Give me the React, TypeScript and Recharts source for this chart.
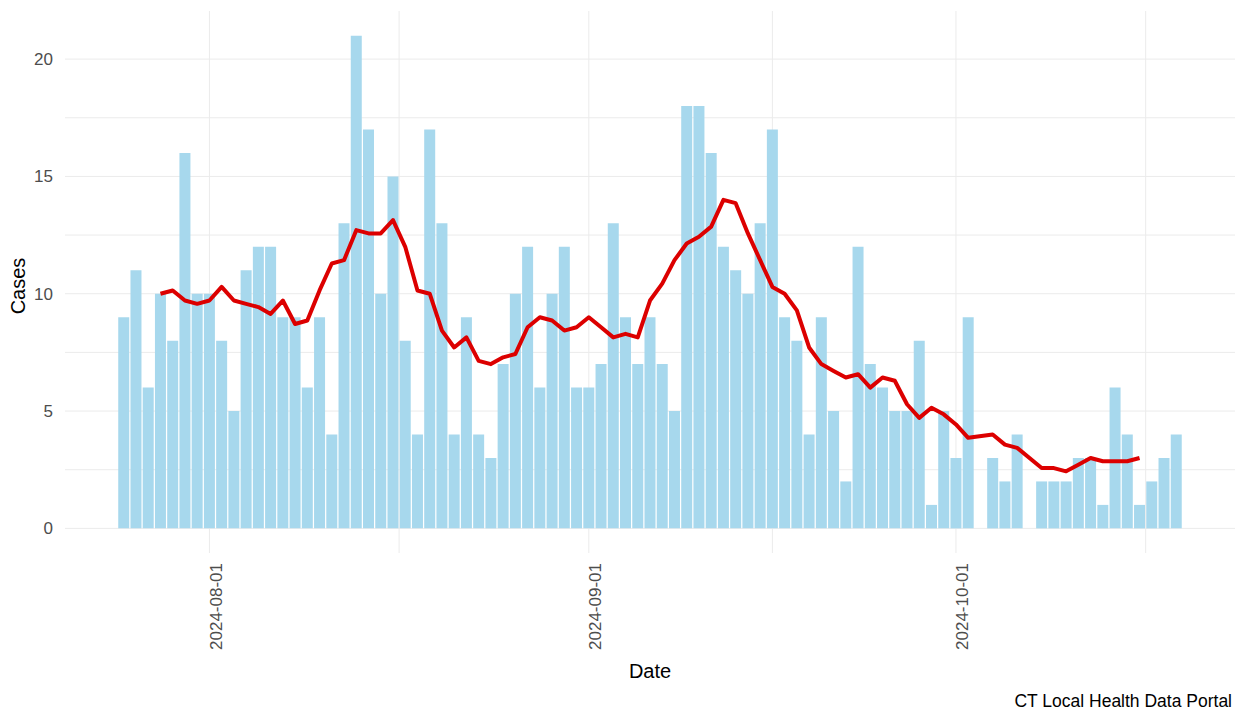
import { ComposedChart, Bar, Line, XAxis, YAxis, CartesianGrid, Label } from 'recharts';

// daily rows as reported; Oct 3 and Oct 7 have no row
const dates = [
  '2024-07-25', '2024-07-26', '2024-07-27', '2024-07-28', '2024-07-29', '2024-07-30', '2024-07-31',
  '2024-08-01', '2024-08-02', '2024-08-03', '2024-08-04', '2024-08-05', '2024-08-06', '2024-08-07',
  '2024-08-08', '2024-08-09', '2024-08-10', '2024-08-11', '2024-08-12', '2024-08-13', '2024-08-14',
  '2024-08-15', '2024-08-16', '2024-08-17', '2024-08-18', '2024-08-19', '2024-08-20', '2024-08-21',
  '2024-08-22', '2024-08-23', '2024-08-24', '2024-08-25', '2024-08-26', '2024-08-27', '2024-08-28',
  '2024-08-29', '2024-08-30', '2024-08-31',
  '2024-09-01', '2024-09-02', '2024-09-03', '2024-09-04', '2024-09-05', '2024-09-06', '2024-09-07',
  '2024-09-08', '2024-09-09', '2024-09-10', '2024-09-11', '2024-09-12', '2024-09-13', '2024-09-14',
  '2024-09-15', '2024-09-16', '2024-09-17', '2024-09-18', '2024-09-19', '2024-09-20', '2024-09-21',
  '2024-09-22', '2024-09-23', '2024-09-24', '2024-09-25', '2024-09-26', '2024-09-27', '2024-09-28',
  '2024-09-29', '2024-09-30',
  '2024-10-01', '2024-10-02', '2024-10-04', '2024-10-05', '2024-10-06', '2024-10-08', '2024-10-09',
  '2024-10-10', '2024-10-11', '2024-10-12', '2024-10-13', '2024-10-14', '2024-10-15', '2024-10-16',
  '2024-10-17', '2024-10-18', '2024-10-19',
];

const cases = [
  9, 11, 6, 10, 8, 16, 10,
  10, 8, 5, 11, 12, 12, 9, 9, 6, 9, 4, 13, 21, 17, 10, 15, 8, 4, 17, 13, 4, 9, 4, 3, 7, 10, 12, 6, 10, 12, 6,
  6, 7, 13, 9, 7, 9, 7, 5, 18, 18, 16, 12, 11, 10, 13, 17, 9, 8, 4, 9, 5, 2, 12, 7, 6, 5, 5, 8, 1, 5,
  3, 9, 3, 2, 4, 2, 2, 2, 3, 3, 1, 6, 4, 1, 2, 3, 4,
];

// red 7-day average line
const rollingAvg = [
  null, null, null, 10.0, 10.14, 9.71, 9.57,
  9.71, 10.29, 9.71, 9.57, 9.43, 9.14, 9.71, 8.71, 8.86, 10.14, 11.29, 11.43, 12.71, 12.57, 12.57, 13.14,
  12.0, 10.14, 10.0, 8.43, 7.71, 8.14, 7.14, 7.0, 7.29, 7.43, 8.57, 9.0, 8.86, 8.43, 8.57,
  9.0, 8.57, 8.14, 8.29, 8.14, 9.71, 10.43, 11.43, 12.14, 12.43, 12.86, 14.0, 13.86, 12.57, 11.43, 10.29,
  10.0, 9.29, 7.71, 7.0, 6.71, 6.43, 6.57, 6.0, 6.43, 6.29, 5.29, 4.71, 5.14, 4.86,
  4.43, 3.86, 4.0, 3.57, 3.43, 2.57, 2.57, 2.43, 2.71, 3.0, 2.86, 2.86, 2.86, 3.0, null, null, null,
];

const majorDates = ['2024-08-01', '2024-09-01', '2024-10-01'];
const minorDates = ['2024-08-16T12:00:00Z', '2024-09-16T00:00:00Z', '2024-10-16T12:00:00Z'];
const yTicks = [0, 2.5, 5, 7.5, 10, 12.5, 15, 17.5, 20];

const DAY = 86400000;
const FONT = '"Liberation Sans", Arial, sans-serif';

const data = dates.map((d, i) => ({ t: Date.parse(d), cases: cases[i], avg: rollingAvg[i] }));
const majorTimes = majorDates.map((d) => Date.parse(d));
const xTicks = [...majorTimes, ...minorDates.map((d) => Date.parse(d))].sort((a, b) => a - b);
const xDomain = [data[0].t - 4.8 * DAY, data[data.length - 1].t + 4.8 * DAY];

const DateTick = (props: any) => {
  const { x, y, payload } = props;
  const i = majorTimes.indexOf(payload.value);
  if (i < 0) return null;
  const cx = x + 7;
  return (
    <text x={cx} y={y} transform={`rotate(-90 ${cx} ${y})`} textAnchor="end" dominantBaseline="central"
      fill="#4d4d4d" fontSize={17} fontFamily={FONT}>
      {majorDates[i]}
    </text>
  );
};

export default function App() {
  return (
    <div style={{ position: 'absolute', left: 0, top: 0, width: 1235, height: 712, background: '#fff', fontFamily: FONT }}>
      <ComposedChart width={1235} height={712} data={data} margin={{ top: 11, right: 0, bottom: 0, left: 0 }} barCategoryGap="5%">
        <CartesianGrid stroke="#ebebeb" strokeWidth={1} syncWithTicks />
        <XAxis
          dataKey="t"
          type="number"
          scale="linear"
          domain={xDomain}
          allowDataOverflow
          ticks={xTicks}
          interval={0}
          tick={<DateTick />}
          tickLine={false}
          axisLine={false}
          tickSize={0}
          tickMargin={10}
          height={159}
        >
          <Label
            content={(p: any) => {
              const vb = p.viewBox ?? { x: 65, y: 553, width: 1170, height: 159 };
              return (
                <g>
                  <text x={vb.x + vb.width / 2} y={vb.y + 125} textAnchor="middle" fontSize={20} fill="#000" fontFamily={FONT}>
                    Date
                  </text>
                  <text x={vb.x + vb.width - 3} y={vb.y + 154} textAnchor="end" fontSize={17.5} fill="#000" fontFamily={FONT}>
                    CT Local Health Data Portal
                  </text>
                </g>
              );
            }}
          />
        </XAxis>
        <YAxis
          type="number"
          domain={[-1.05, 22.05]}
          ticks={yTicks}
          interval={0}
          tickFormatter={(v: number) => (v % 5 === 0 ? String(v) : '')}
          tick={{ fill: '#4d4d4d', fontSize: 17, fontFamily: FONT }}
          tickLine={false}
          axisLine={false}
          tickSize={0}
          tickMargin={12}
          width={65}
        >
          <Label
            content={(p: any) => {
              const vb = p.viewBox ?? { x: 0, y: 11, width: 65, height: 542 };
              const cx = vb.x + 18;
              const cy = vb.y + vb.height / 2 + 4;
              return (
                <text x={cx} y={cy} transform={`rotate(-90 ${cx} ${cy})`} textAnchor="middle" dominantBaseline="central"
                  fontSize={20} fill="#000" fontFamily={FONT}>
                  Cases
                </text>
              );
            }}
          />
        </YAxis>
        <Bar dataKey="cases" fill="#a7d8ed" isAnimationActive={false} />
        <Line
          dataKey="avg"
          type="linear"
          stroke="#dc0000"
          strokeWidth={4}
          strokeLinejoin="round"
          dot={false}
          activeDot={false}
          connectNulls
          isAnimationActive={false}
        />
      </ComposedChart>
    </div>
  );
}
